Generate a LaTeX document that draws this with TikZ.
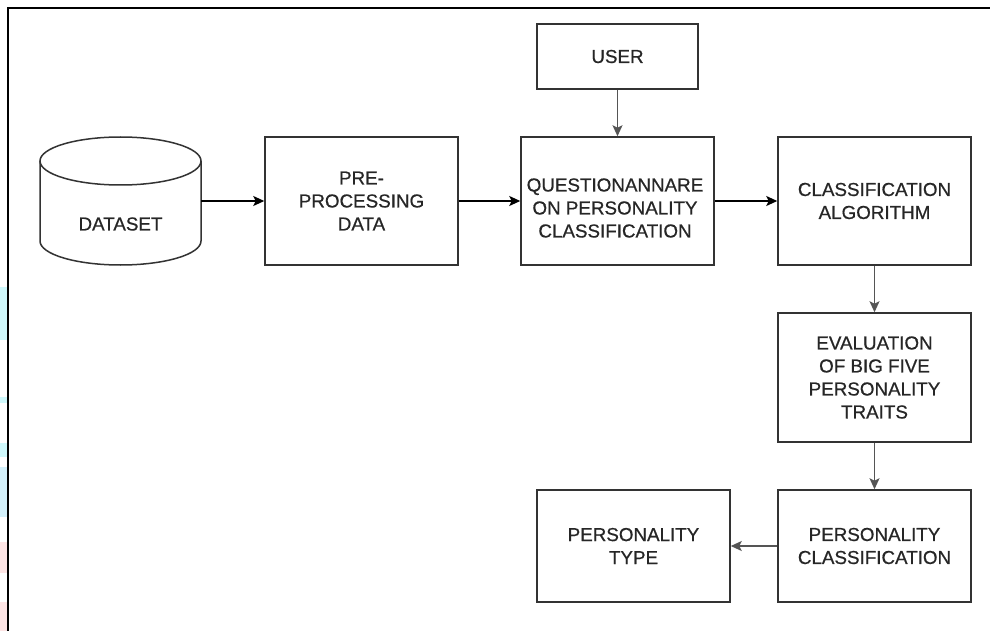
\documentclass[tikz,border=0pt]{standalone}
\usepackage{fontspec}
\setmainfont{Liberation Sans}
\newfontfamily\lblfont{Liberation Sans}[FakeBold=0.6]
\usetikzlibrary{arrows.meta}
\definecolor{txt}{HTML}{262626}
\definecolor{edge}{HTML}{333333}
\definecolor{vedge}{HTML}{555555}
\definecolor{stcyan}{HTML}{CFF8FB}
\definecolor{stblue}{HTML}{D3F0FA}
\definecolor{stpink}{HTML}{FDE4E4}
\begin{document}
\begin{tikzpicture}[x=1pt,y=-1pt,
  box/.style={draw=edge, line width=1.5pt, minimum width=#1, inner sep=0pt},
  lbl/.style={font=\lblfont\fontsize{18.8}{23}\selectfont, text=txt, align=center, inner sep=0pt},
  arr/.style={-{Stealth[length=11pt,width=10pt,inset=2.5pt]}, line width=1.5pt, draw=black},
  varr/.style={arr, draw=vedge}
]
\useasboundingbox (0,0) rectangle (990,631);
\fill[white] (0,0) rectangle (990,631);
% faint stripes at the left edge
\fill[stcyan] (0,287) rectangle (7,340);
\fill[stcyan] (0,397) rectangle (7,403);
\fill[stcyan] (0,443) rectangle (7,457);
\fill[stblue] (0,467) rectangle (7,517);
\fill[stpink] (0,542) rectangle (7,573);
\fill[stpink] (0,602) rectangle (7,631);
% frame
\draw[line width=2pt, black] (8,631) -- (8,8) -- (990,8);

% cylinder (dataset)
\draw[edge, line width=1.5pt, fill=white]
  (40,161) -- (40,241) arc[start angle=180, end angle=0, x radius=80.5, y radius=24]
  -- (201,161);
\draw[edge, line width=1.5pt] (120.5,161) ellipse[x radius=80.5, y radius=24];
\node[lbl] (dstext) at (120.5,224) {DATASET};
\coordinate (dsout) at (201,201);

% boxes
\node[box=193pt, minimum height=128pt, lbl] (pre) at (361.5,201) {PRE-\\PROCESSING\\DATA};
\node[box=193pt, minimum height=128pt] (q) at (617.5,201) {};
\node[lbl] (qtext) at (615,208) {QUESTIONANNARE\\ON PERSONALITY\\CLASSIFICATION};
\node[box=161pt, minimum height=65pt, lbl] (user) at (617.5,56.5) {USER};
\node[box=193pt, minimum height=128pt, lbl] (ca) at (874.5,201) {CLASSIFICATION\\ALGORITHM};
\node[box=193pt, minimum height=129pt, lbl] (ev) at (874.5,377.5) {EVALUATION\\OF BIG FIVE\\PERSONALITY\\TRAITS};
\node[box=193pt, minimum height=112pt, lbl] (pc) at (874.5,546) {PERSONALITY\\CLASSIFICATION};
\node[box=193pt, minimum height=112pt, lbl] (pt) at (633.5,546) {PERSONALITY\\TYPE};

% connectors
\draw[arr] (dsout) -- (pre.west);
\draw[arr] (pre.east) -- (q.west);
\draw[arr] (q.east) -- (ca.west);
\draw[varr] (user.south) -- (q.north);
\draw[varr] (ca.south) -- (ev.north);
\draw[varr] (ev.south) -- (pc.north);
\draw[varr] (pc.west) -- (pt.east);
\end{tikzpicture}
\end{document}
